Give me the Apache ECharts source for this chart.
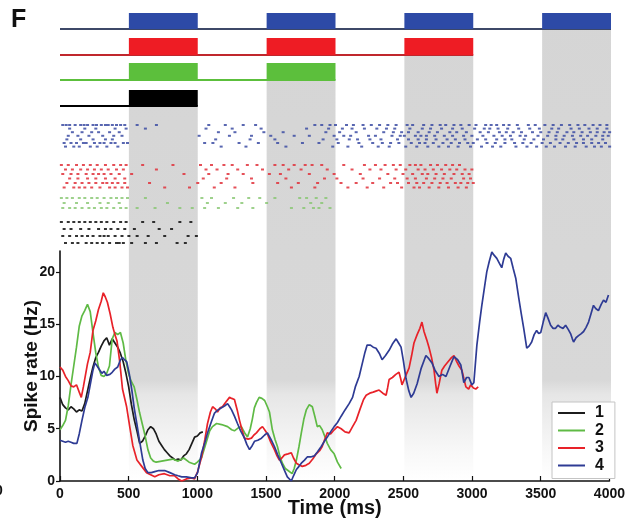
<!DOCTYPE html>
<html>
<head>
<meta charset="utf-8">
<script src="https://cdn.jsdelivr.net/npm/echarts@6/dist/echarts.min.js"></script>
<style>
  html, body { margin: 0; padding: 0; background: #fff; }
  #chart { width: 628px; height: 522px; }
</style>
</head>
<body>
<div id="chart"></div>
<script>
// ---- data -----------------------------------------------------------------
const conditions = ['1', '2', '3', '4'];
const timeTicks = [0, 500, 1000, 1500, 2000, 2500, 3000, 3500, 4000];
const rateTicks = [0, 5, 10, 15, 20];

// stimulus-on intervals (ms) per condition
const stimOn1 = [[500, 1000]];
const stimOn2 = [[500, 1000], [1500, 2000]];
const stimOn3 = [[500, 1000], [1500, 2000], [2500, 3000]];
const stimOn4 = [[500, 1000], [1500, 2000], [2500, 3000], [3500, 4000]];

// spike times (ms), one list per trial
const spikes1 = [
  [10, 60, 100, 140, 180, 220, 260, 300, 340, 390, 440, 480, 600, 680, 870, 950],
  [30, 80, 150, 210, 280, 330, 370, 420, 470, 540, 720, 810],
  [20, 70, 120, 160, 200, 240, 290, 320, 350, 400, 450, 500, 560, 640, 760, 930, 990],
  [40, 90, 130, 190, 230, 270, 310, 360, 410, 430, 460, 520, 620, 700, 850, 910]
];
const spikes2 = [
  [10, 50, 90, 140, 180, 230, 270, 320, 370, 410, 450, 490, 620, 1030, 1100, 1260, 1370, 1450, 1560, 1740, 1790, 1860, 1930],
  [30, 120, 200, 290, 350, 430, 780, 1070, 1200, 1320, 1500, 1820, 1900],
  [20, 70, 110, 160, 210, 250, 300, 340, 390, 440, 480, 560, 690, 870, 960, 1050, 1150, 1290, 1400, 1680, 1770, 1840, 1880, 1960]
];
const spikes3 = [
  [10, 60, 120, 170, 220, 270, 330, 390, 440, 480, 600, 820, 1020, 1100, 1190, 1250, 1360, 1430, 1560, 1620, 1700, 1780, 1830, 1900, 2060, 2210, 2290, 2360, 2420, 2470, 2540, 2580, 2620, 2690, 2740, 2800, 2850, 2900],
  [40, 90, 150, 200, 250, 300, 350, 410, 460, 700, 1060, 1140, 1290, 1470, 1660, 1750, 1940, 2120, 2250, 2330, 2440, 2510, 2600, 2650, 2710, 2770, 2830, 2880, 2940, 2990],
  [20, 80, 130, 190, 240, 280, 320, 370, 430, 520, 900, 1080, 1220, 1330, 1520, 1600, 1810, 1990, 2180, 2380, 2490, 2560, 2630, 2670, 2730, 2790, 2860, 2920, 2970],
  [70, 130, 200, 260, 330, 400, 470, 1040, 1210, 1390, 1640, 1920, 2010, 2200, 2320, 2430, 2520, 2580, 2660, 2720, 2780, 2840, 2930, 2980],
  [50, 110, 160, 210, 260, 310, 340, 380, 420, 470, 650, 1000, 1170, 1400, 1580, 1730, 1870, 2040, 2150, 2270, 2400, 2450, 2530, 2590, 2640, 2700, 2760, 2810, 2870, 2910, 2960, 3000],
  [30, 100, 140, 180, 230, 290, 360, 400, 450, 490, 760, 940, 1120, 1270, 1680, 1850, 2090, 2230, 2350, 2480, 2570, 2610, 2680, 2750, 2820, 2890, 2950]
];
const spikes4 = [
  [20, 45, 70, 110, 150, 175, 200, 240, 265, 300, 330, 350, 380, 410, 440, 470, 560, 700, 1080, 1200, 1330, 1420, 1850, 1900, 1960, 2000, 2080, 2130, 2200, 2260, 2320, 2380, 2440, 2520, 2560, 2640, 2700, 2760, 2800, 2860, 2910, 2970, 3020, 3090, 3130, 3170, 3220, 3260, 3320, 3400, 3450, 3520, 3580, 3640, 3700, 3760, 3810, 3870, 3920, 3970],
  [70, 180, 260, 400, 480, 620, 1060, 1250, 1460, 1790, 1950, 2050, 2120, 2210, 2300, 2370, 2430, 2540, 2630, 2690, 2770, 2850, 2920, 3010, 3080, 3120, 3180, 3250, 3330, 3410, 3480, 3570, 3620, 3710, 3770, 3840, 3900, 3970],
  [90, 160, 230, 280, 360, 430, 1150, 1270, 1480, 1620, 1930, 2030, 2150, 2350, 2420, 2480, 2530, 2600, 2680, 2740, 2830, 2880, 2950, 3050, 3110, 3190, 3240, 3290, 3350, 3430, 3490, 3550, 3610, 3680, 3730, 3790, 3850, 3900, 3950, 3990],
  [60, 130, 210, 310, 390, 450, 1010, 1230, 1390, 1530, 1700, 1810, 1990, 2060, 2110, 2240, 2290, 2410, 2470, 2500, 2580, 2620, 2660, 2720, 2790, 2850, 2930, 2990, 3070, 3150, 3210, 3270, 3340, 3380, 3470, 3540, 3600, 3660, 3720, 3780, 3830, 3890, 3940, 3980],
  [50, 150, 240, 330, 380, 1130, 1380, 1560, 1910, 2010, 2100, 2160, 2250, 2330, 2450, 2530, 2600, 2660, 2730, 2810, 2870, 2940, 3030, 3090, 3170, 3230, 3280, 3370, 3440, 3510, 3600, 3650, 3730, 3800, 3860, 3940],
  [30, 80, 120, 170, 190, 250, 290, 320, 370, 400, 460, 490, 1050, 1110, 1300, 1440, 1580, 1760, 1880, 2020, 2170, 2270, 2340, 2400, 2460, 2550, 2610, 2650, 2710, 2780, 2840, 2900, 2960, 3000, 3100, 3160, 3230, 3300, 3360, 3420, 3500, 3560, 3630, 3690, 3750, 3800, 3860, 3910, 3960],
  [40, 100, 140, 220, 270, 340, 420, 1170, 1350, 1640, 1980, 2090, 2190, 2310, 2390, 2510, 2590, 2670, 2750, 2820, 2890, 2980, 3060, 3140, 3200, 3310, 3390, 3460, 3530, 3590, 3670, 3740, 3820, 3880, 3930, 3990]
];

// smoothed spike rate [time ms, rate Hz]
const rate1 = [[0,8.0],[20,7.3],[40,7.0],[60,6.8],[80,7.1],[100,6.9],[120,6.6],[140,6.8],[160,6.7],[180,7.4],[200,8.6],[220,9.8],[240,10.9],[260,11.8],[280,12.3],[300,12.9],[320,13.4],[340,13.7],[360,13.0],[380,13.6],[400,13.2],[420,12.8],[440,12.2],[460,11.4],[480,10.3],[500,9.0],[520,7.3],[540,5.9],[560,4.8],[580,3.6],[600,3.8],[620,4.3],[640,4.9],[660,5.2],[680,5.0],[700,4.5],[720,3.8],[740,3.4],[760,3.0],[780,2.7],[800,2.4],[820,2.2],[840,2.0],[860,2.1],[880,2.0],[900,2.4],[920,2.6],[940,3.0],[960,3.6],[980,4.2],[1000,4.3],[1020,4.6],[1040,4.7]];
const rate2 = [[0,4.9],[20,5.3],[40,5.8],[60,7.2],[80,9.2],[100,11.0],[120,12.8],[140,14.8],[160,15.8],[180,16.3],[200,16.9],[220,16.2],[240,14.2],[260,12.3],[280,10.9],[300,10.1],[320,10.0],[340,10.3],[360,11.0],[380,13.6],[400,14.2],[420,14.0],[440,14.2],[460,13.2],[480,11.5],[500,10.2],[520,9.5],[540,9.0],[560,7.8],[580,6.5],[600,5.4],[620,4.3],[640,3.0],[660,2.2],[680,1.9],[700,1.8],[740,1.9],[780,2.0],[820,2.1],[860,1.9],[900,2.2],[940,1.8],[980,1.6],[1000,1.8],[1030,2.2],[1060,3.5],[1090,4.8],[1110,5.2],[1140,5.5],[1176,5.4],[1220,5.2],[1250,4.9],[1270,4.8],[1300,5.1],[1320,5.2],[1345,4.6],[1365,4.2],[1385,5.0],[1400,5.9],[1415,7.0],[1430,7.5],[1450,8.0],[1470,7.9],[1490,7.7],[1510,7.1],[1525,6.6],[1546,4.9],[1565,4.0],[1583,3.3],[1600,2.4],[1619,1.7],[1640,1.2],[1660,1.0],[1690,0.7],[1705,1.2],[1721,2.0],[1740,3.3],[1757,4.6],[1775,5.9],[1793,6.8],[1815,7.3],[1837,7.1],[1855,6.2],[1873,5.2],[1890,5.3],[1909,4.9],[1930,4.2],[1946,3.6],[1970,3.0],[1996,2.6],[2020,1.8],[2047,1.2]];
const rate3 = [[0,10.9],[20,10.6],[40,10.0],[60,9.6],[80,9.1],[100,9.0],[120,9.2],[140,8.5],[155,8.0],[170,9.0],[185,10.1],[200,11.2],[220,12.3],[240,14.4],[260,15.3],[280,16.4],[300,17.2],[315,18.0],[330,17.6],[345,17.1],[365,16.0],[385,14.7],[400,14.0],[415,13.4],[435,11.4],[455,8.8],[485,7.1],[510,5.0],[530,3.4],[560,2.0],[595,1.4],[630,0.8],[660,0.6],[690,0.4],[720,0.6],[760,0.7],[800,0.5],[835,0.5],[860,0.2],[886,0.0],[920,0.2],[958,0.3],[980,0.2],[1002,0.9],[1031,2.3],[1055,4.0],[1074,5.5],[1095,6.6],[1111,7.1],[1130,6.9],[1147,6.6],[1165,7.0],[1183,7.1],[1205,7.5],[1234,8.0],[1250,7.9],[1270,7.8],[1290,6.8],[1307,5.8],[1325,4.9],[1343,4.1],[1370,4.0],[1394,4.1],[1412,4.4],[1430,4.6],[1455,5.0],[1474,5.2],[1495,4.8],[1510,4.5],[1535,3.7],[1561,3.0],[1580,2.4],[1597,2.0],[1615,2.2],[1634,2.5],[1660,2.6],[1684,2.7],[1700,2.2],[1721,1.7],[1745,1.5],[1764,1.4],[1790,1.5],[1815,1.7],[1840,2.1],[1866,2.6],[1890,2.9],[1909,3.3],[1925,3.9],[1946,4.6],[1970,4.5],[1996,4.9],[2020,5.2],[2047,5.0],[2075,4.7],[2105,4.6],[2130,5.2],[2156,5.8],[2185,6.9],[2210,7.8],[2229,8.2],[2255,8.4],[2280,8.5],[2300,8.6],[2323,8.7],[2350,8.4],[2374,8.2],[2385,8.9],[2396,9.7],[2420,9.9],[2445,10.2],[2468,10.4],[2480,9.8],[2490,9.2],[2515,10.0],[2541,10.8],[2560,12.0],[2577,13.2],[2600,14.0],[2620,14.6],[2635,15.2],[2650,14.3],[2670,13.5],[2686,12.8],[2705,11.8],[2723,10.6],[2735,9.3],[2744,8.4],[2760,9.3],[2780,10.6],[2800,11.0],[2825,11.4],[2850,11.8],[2868,12.0],[2885,11.5],[2905,11.0],[2926,10.6],[2940,9.8],[2955,9.0],[2975,8.8],[2990,9.2],[3010,8.9],[3027,8.8],[3045,9.0]];
const rate4 = [[0,3.9],[20,3.8],[40,3.7],[60,3.8],[80,3.7],[100,3.6],[123,3.6],[140,4.5],[160,5.8],[180,7.0],[203,8.0],[220,9.2],[240,10.6],[254,11.3],[270,11.0],[290,10.6],[305,10.3],[320,10.5],[340,10.1],[363,10.2],[380,10.4],[399,10.7],[420,10.9],[440,11.6],[455,11.8],[470,11.6],[486,11.4],[505,10.2],[523,8.7],[540,7.0],[559,5.5],[580,3.8],[603,2.0],[620,1.2],[640,0.8],[665,0.8],[690,0.9],[720,1.0],[762,1.0],[800,0.8],[835,0.6],[860,0.5],[886,0.4],[920,0.4],[958,0.3],[980,0.3],[1002,0.8],[1031,2.7],[1053,3.6],[1074,4.6],[1100,5.6],[1125,6.5],[1150,6.8],[1176,7.0],[1200,7.2],[1220,7.4],[1235,7.1],[1249,6.8],[1270,6.2],[1292,5.5],[1315,4.8],[1343,4.1],[1360,3.5],[1380,3.0],[1400,3.4],[1416,3.8],[1440,3.9],[1467,4.1],[1490,4.4],[1510,4.6],[1535,4.0],[1561,3.3],[1585,2.5],[1612,1.7],[1635,1.0],[1655,0.4],[1684,0.0],[1700,0.5],[1721,1.1],[1740,1.4],[1757,1.7],[1780,2.0],[1800,2.3],[1825,2.3],[1851,2.4],[1875,2.8],[1902,3.3],[1925,3.8],[1946,4.2],[1970,4.7],[1996,5.2],[2020,5.6],[2047,6.2],[2075,6.8],[2105,7.4],[2130,8.0],[2150,9.0],[2178,10.0],[2200,11.2],[2220,12.3],[2236,13.0],[2260,13.0],[2280,12.8],[2301,12.7],[2325,12.2],[2345,11.6],[2370,12.0],[2396,12.5],[2420,13.1],[2447,13.6],[2465,13.2],[2483,12.8],[2500,11.5],[2519,9.8],[2540,8.6],[2556,8.0],[2575,8.4],[2600,9.3],[2630,10.8],[2664,12.0],[2685,11.7],[2708,11.3],[2730,10.6],[2759,10.0],[2785,10.2],[2810,10.0],[2840,11.0],[2868,11.9],[2895,11.6],[2918,11.1],[2930,10.2],[2940,9.4],[2960,9.9],[2977,9.9],[2998,9.2],[3013,9.4],[3035,13.0],[3055,15.2],[3071,16.8],[3090,18.5],[3107,20.0],[3125,21.0],[3144,21.9],[3160,21.6],[3180,21.3],[3200,20.8],[3216,20.4],[3230,21.2],[3245,21.8],[3262,21.5],[3281,21.3],[3300,20.3],[3318,19.4],[3340,17.5],[3358,16.0],[3376,14.6],[3390,13.4],[3398,12.7],[3415,12.9],[3434,13.3],[3452,14.0],[3470,14.4],[3485,14.1],[3500,14.2],[3518,15.2],[3536,16.1],[3552,15.6],[3572,14.9],[3590,14.6],[3608,14.6],[3625,14.9],[3644,14.7],[3662,14.6],[3681,14.9],[3700,14.5],[3717,14.1],[3730,13.6],[3739,13.3],[3757,13.7],[3775,13.9],[3795,14.1],[3812,14.3],[3830,14.7],[3848,15.2],[3866,16.0],[3884,16.8],[3900,16.5],[3920,16.3],[3940,16.9],[3957,17.3],[3975,17.1],[3993,17.8]];

// ---- layout & style -------------------------------------------------------
const W = 628, H = 522;
const AXIS_Y = 481;                 // pixel row of the time axis
const GRID = { left: 60, right: 17, top: 251, bottom: H - AXIS_Y };
const RATE_MAX = 22;
// stimulus track rows (pixel top / bottom), condition order 1..4
const STIM_ROWS = [[90, 106], [63, 80], [38, 55], [13, 29]];
// raster: first row and row spacing per condition
const RASTER_TOP = [222, 198, 165, 125];
const RASTER_STEP = [7, 5, 4.5, 3.6];

const LINE_COLORS = ['#1c1c1c', '#5fba45', '#e82229', '#2e3b94'];
const BAR_COLORS = ['#000000', '#5cbf3c', '#ee1c24', '#2d4aa6'];
const BASE_COLORS = ['#000000', '#5cbf3c', '#c0272d', '#3d4868'];
const DOT_COLORS = ['#111111', '#86c56f', '#e0313b', '#3c4ca3'];
const FONT = '"Liberation Sans", Arial, sans-serif';

const stimOn = [stimOn1, stimOn2, stimOn3, stimOn4];
const spikes = [spikes1, spikes2, spikes3, spikes4];
const rates = [rate1, rate2, rate3, rate4];

// stimulus bars and baselines
const stimItems = [];
stimOn.forEach((on, ci) => {
  stimItems.push([0, on[on.length - 1][1], ci, 0]);
  on.forEach(([a, b]) => stimItems.push([a, b, ci, 1]));
});

// shaded periods: each stimulus period shaded from below the lowest track that has it
const bandItems = [];
stimOn4.forEach(([a, b]) => {
  const ci = stimOn.findIndex(on => on.some(([s, e]) => s === a && e === b));
  bandItems.push([a, b, ci]);
});

const bandFill = new echarts.graphic.LinearGradient(0, 0, 0, AXIS_Y, [
  { offset: 0, color: '#d5d5d5' },
  { offset: 0.79, color: '#d8d8d8' },
  { offset: 0.82, color: '#e6e6e6' },
  { offset: 0.94, color: '#f8f8f8' },
  { offset: 1, color: '#ffffff' }
], true);

const rasterSeries = spikes.map((trials, ci) => ({
  type: 'scatter',
  xAxisIndex: 1, yAxisIndex: 1,
  symbol: 'rect',
  symbolSize: [3, 2],
  silent: true,
  z: 2,
  itemStyle: { color: DOT_COLORS[ci], opacity: ci === 1 ? 0.8 : 0.85 },
  data: trials.flatMap((times, ti) =>
    times.map(t => [t, RASTER_TOP[ci] + ti * RASTER_STEP[ci]]))
}));

const plainNumber = v => String(v);

const chart = echarts.init(document.getElementById('chart'), null, { renderer: 'canvas', width: W, height: H });

chart.setOption({
  animation: false,
  backgroundColor: '#ffffff',
  textStyle: { fontFamily: FONT },
  grid: [
    { left: GRID.left, right: GRID.right, top: GRID.top, bottom: GRID.bottom },
    { left: GRID.left, right: GRID.right, top: 0, bottom: GRID.bottom }
  ],
  xAxis: [
    {
      type: 'value', gridIndex: 0, min: 0, max: 4000, interval: 500,
      name: 'Time (ms)', nameLocation: 'middle', nameGap: 17, nameMoveOverlap: false,
      nameTextStyle: { fontFamily: FONT, fontWeight: 'bold', fontSize: 20, color: '#111' },
      axisLine: { lineStyle: { color: '#111', width: 1.6 } },
      axisTick: { inside: true, length: 5, lineStyle: { color: '#111', width: 1.2 }, customValues: timeTicks },
      axisLabel: { fontFamily: FONT, fontWeight: 'bold', fontSize: 14, color: '#111', margin: 6, customValues: timeTicks, formatter: plainNumber },
      splitLine: { show: false }
    },
    { type: 'value', gridIndex: 1, min: 0, max: 4000, show: false }
  ],
  yAxis: [
    {
      type: 'value', gridIndex: 0, min: 0, max: RATE_MAX,
      name: 'Spike rate (Hz)', nameLocation: 'middle', nameGap: 19, nameMoveOverlap: false,
      nameTextStyle: { fontFamily: FONT, fontWeight: 'bold', fontSize: 19, color: '#111' },
      axisLine: { show: true, lineStyle: { color: '#111', width: 1.6 } },
      axisTick: { show: true, inside: false, length: 4, lineStyle: { color: '#111', width: 1.2 }, customValues: rateTicks },
      axisLabel: { fontFamily: FONT, fontWeight: 'bold', fontSize: 14, color: '#111', margin: 5, customValues: rateTicks, formatter: plainNumber },
      splitLine: { show: false }
    },
    { type: 'value', gridIndex: 1, min: 0, max: AXIS_Y, inverse: true, show: false }
  ],
  legend: {
    data: conditions,
    orient: 'vertical',
    left: 552, top: 402,
    padding: [3, 11, 5, 6],
    itemGap: 1.5,
    itemWidth: 27, itemHeight: 2,
    icon: 'rect',
    backgroundColor: '#ffffff',
    borderColor: '#c4c4c4', borderWidth: 1,
    textStyle: { fontFamily: FONT, fontWeight: 'bold', fontSize: 16, color: '#111', padding: [0, 0, 0, 5], lineHeight: 16 }
  },
  graphic: [
    { type: 'text', left: 11, top: 8, style: { text: 'F', font: 'bold 25px ' + FONT, fill: '#111' } },
    { type: 'text', left: -5, top: 484, style: { text: '0', font: 'bold 14px ' + FONT, fill: '#111' } }
  ],
  series: [
    {
      type: 'custom', name: 'periods', xAxisIndex: 1, yAxisIndex: 1, silent: true, z: 0,
      data: bandItems,
      renderItem: (params, api) => {
        const top = STIM_ROWS[api.value(2)][1];
        const p0 = api.coord([api.value(0), top]);
        const p1 = api.coord([api.value(1), AXIS_Y]);
        return { type: 'rect', shape: { x: p0[0], y: p0[1], width: p1[0] - p0[0], height: p1[1] - p0[1] }, style: { fill: bandFill } };
      }
    },
    {
      type: 'custom', name: 'stimulus', xAxisIndex: 1, yAxisIndex: 1, silent: true, z: 1,
      data: stimItems,
      renderItem: (params, api) => {
        const ci = api.value(2);
        const [top, bottom] = STIM_ROWS[ci];
        const p0 = api.coord([api.value(0), top]);
        const p1 = api.coord([api.value(1), bottom]);
        if (api.value(3) === 0) {
          return { type: 'line', shape: { x1: p0[0], y1: p1[1], x2: p1[0], y2: p1[1] }, style: { stroke: BASE_COLORS[ci], lineWidth: 2 } };
        }
        return { type: 'rect', shape: { x: p0[0], y: p0[1], width: p1[0] - p0[0], height: p1[1] - p0[1] }, style: { fill: BAR_COLORS[ci] } };
      }
    },
    ...rasterSeries,
    ...rates.map((d, ci) => ({
      type: 'line', name: conditions[ci], xAxisIndex: 0, yAxisIndex: 0,
      data: d, showSymbol: false, symbol: 'none', z: 3,
      lineStyle: { color: LINE_COLORS[ci], width: 1.7 },
      itemStyle: { color: LINE_COLORS[ci] }
    }))
  ]
});
</script>
</body>
</html>
